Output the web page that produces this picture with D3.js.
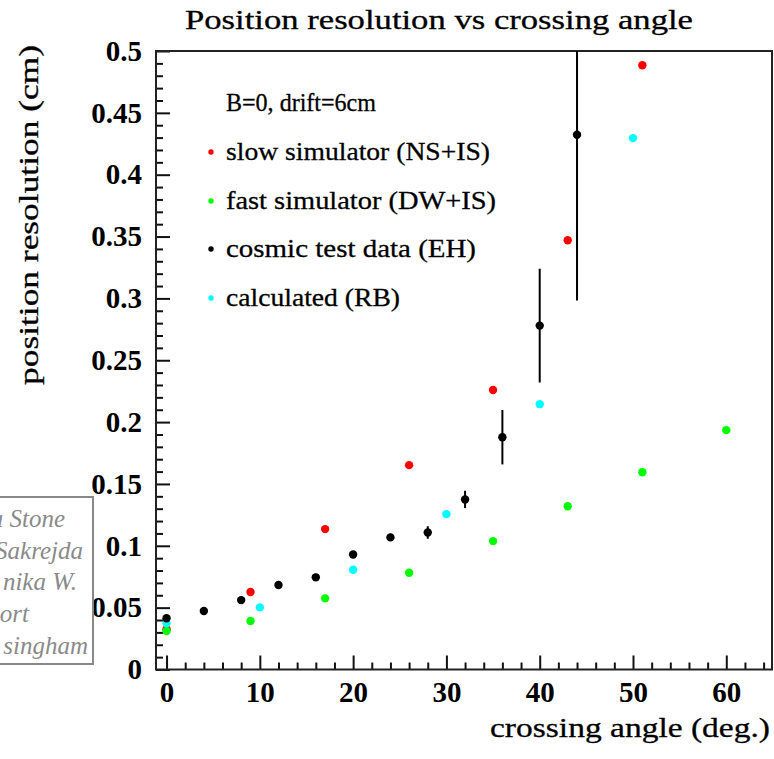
<!DOCTYPE html>
<html>
<head>
<meta charset="utf-8">
<script src="https://cdn.jsdelivr.net/npm/d3@7"></script>
<style>
  html, body { margin: 0; padding: 0; background: #fff; }
  svg { display: block; }
  text { font-family: "Liberation Serif", "Times New Roman", serif; }
  .heavy { stroke: #000; stroke-width: 0.3px; }
</style>
</head>
<body>
<div id="chart"></div>
<script>
// Crossing angle (deg.) and position resolution (cm) for each data set
const angleSlow = [0, 9, 17, 26, 35, 43, 51];
const resSlow   = [0.0325, 0.0626, 0.1135, 0.1652, 0.226, 0.347, 0.4885];

const angleFast = [0, 9, 17, 26, 35, 43, 51, 60];
const resFast   = [0.0311, 0.0392, 0.0575, 0.0782, 0.1038, 0.132, 0.1595, 0.1935];

const angleCosmic = [0, 4, 8, 12, 16, 20, 24, 28, 32, 36, 40, 44];
const resCosmic   = [0.0414, 0.0473, 0.0561, 0.0683, 0.0745, 0.093, 0.1068, 0.1108, 0.1375, 0.1878, 0.278, 0.4323];
const errCosmic   = [0.002, 0.0015, 0.002, 0.0015, 0.003, 0.002, 0.003, 0.005, 0.007, 0.022, 0.046, 0.134];

const angleCalc = [0, 10, 20, 30, 40, 50];
const resCalc   = [0.0373, 0.0502, 0.0806, 0.1256, 0.2145, 0.4296];

const xTickValues = [0, 10, 20, 30, 40, 50, 60];
const yTickValues = [0, 0.05, 0.1, 0.15, 0.2, 0.25, 0.3, 0.35, 0.4, 0.45, 0.5];
const yTickLabels = ["0", "0.05", "0.1", "0.15", "0.2", "0.25", "0.3", "0.35", "0.4", "0.45", "0.5"];

const legendTitle = "B=0, drift=6cm";
const seriesNames = ["slow simulator (NS+IS)", "fast simulator (DW+IS)", "cosmic test data (EH)", "calculated (RB)"];
const seriesColors = ["#ff0000", "#00ff00", "#000000", "#00ffff"];

const creditLines = ["a Stone", "Sakrejda", "nika W.", "ort", "singham"];

const W = 774, H = 759;
const frame = { left: 156, right: 772, top: 51, bottom: 669.5 };

const svg = d3.select("#chart").append("svg")
  .attr("width", W).attr("height", H);

const x = d3.scaleLinear().domain([-1.13, 64.9]).range([frame.left, frame.right]);
const y = d3.scaleLinear().domain([0, 0.5]).range([frame.bottom, frame.top]);

// Title
svg.append("text")
  .attr("class", "heavy")
  .attr("x", 439).attr("y", 29)
  .attr("text-anchor", "middle")
  .attr("font-size", 28)
  .attr("textLength", 508).attr("lengthAdjust", "spacingAndGlyphs")
  .text("Position resolution vs crossing angle");

// Minor ticks
const xMinor = d3.range(0, 65, 2).filter(v => v % 10 !== 0);
const yMinor = d3.range(0, 51).map(v => v / 100).filter((v, i) => i % 5 !== 0);

svg.append("g")
  .attr("transform", `translate(0,${frame.bottom})`)
  .call(d3.axisBottom(x).tickValues(xMinor).tickSize(-7).tickFormat(""))
  .call(g => g.select(".domain").remove())
  .call(g => g.selectAll("line").attr("stroke", "#111").attr("stroke-width", 2));

svg.append("g")
  .attr("transform", `translate(${frame.left},0)`)
  .call(d3.axisLeft(y).tickValues(yMinor).tickSize(-7).tickFormat(""))
  .call(g => g.select(".domain").remove())
  .call(g => g.selectAll("line").attr("stroke", "#111").attr("stroke-width", 2));

// Major ticks with labels
svg.append("g")
  .attr("transform", `translate(0,${frame.bottom})`)
  .call(d3.axisBottom(x).tickValues(xTickValues).tickSize(-14).tickPadding(12).tickFormat(d3.format("d")))
  .call(g => g.select(".domain").remove())
  .call(g => g.selectAll("line").attr("stroke", "#111").attr("stroke-width", 2))
  .call(g => g.selectAll("text")
    .attr("font-family", "Liberation Serif, serif")
    .attr("font-weight", "bold").attr("font-size", 29).attr("fill", "#000"));

svg.append("g")
  .attr("transform", `translate(${frame.left},0)`)
  .call(d3.axisLeft(y).tickValues(yTickValues).tickSize(-14).tickPadding(14)
    .tickFormat((d, i) => yTickLabels[i]))
  .call(g => g.select(".domain").remove())
  .call(g => g.selectAll("line").attr("stroke", "#111").attr("stroke-width", 2))
  .call(g => g.selectAll("text")
    .attr("font-family", "Liberation Serif, serif")
    .attr("font-weight", "bold").attr("font-size", 29).attr("fill", "#000"));

// Frame
svg.append("rect")
  .attr("x", frame.left).attr("y", frame.top)
  .attr("width", frame.right - frame.left).attr("height", frame.bottom - frame.top)
  .attr("fill", "none").attr("stroke", "#222").attr("stroke-width", 2);

// Axis titles
svg.append("text")
  .attr("class", "heavy")
  .attr("x", 770).attr("y", 737)
  .attr("text-anchor", "end")
  .attr("font-size", 28)
  .attr("textLength", 280).attr("lengthAdjust", "spacingAndGlyphs")
  .text("crossing angle (deg.)");

svg.append("text")
  .attr("class", "heavy")
  .attr("transform", "translate(38,215) rotate(-90)")
  .attr("text-anchor", "middle")
  .attr("font-size", 28)
  .attr("textLength", 340).attr("lengthAdjust", "spacingAndGlyphs")
  .text("position resolution (cm)");

// Data points, clipped to the frame
const clipId = "plotClip";
svg.append("clipPath").attr("id", clipId)
  .append("rect").attr("x", frame.left).attr("y", frame.top)
  .attr("width", frame.right - frame.left).attr("height", frame.bottom - frame.top);
const plot = svg.append("g").attr("clip-path", `url(#${clipId})`);

const series = [
  { xs: angleSlow, ys: resSlow, color: seriesColors[0] },
  { xs: angleFast, ys: resFast, color: seriesColors[1] },
  { xs: angleCalc, ys: resCalc, color: seriesColors[3] },
  { xs: angleCosmic, ys: resCosmic, color: seriesColors[2], err: errCosmic }
];

series.forEach(s => {
  const pts = s.xs.map((a, i) => ({ a, r: s.ys[i], e: s.err ? s.err[i] : 0 }));
  const g = plot.append("g");
  if (s.err) {
    g.selectAll("line.err").data(pts).join("line")
      .attr("class", "err")
      .attr("x1", d => x(d.a)).attr("x2", d => x(d.a))
      .attr("y1", d => y(d.r - d.e)).attr("y2", d => y(d.r + d.e))
      .attr("stroke", s.color).attr("stroke-width", 2);
  }
  g.selectAll("circle").data(pts).join("circle")
    .attr("cx", d => x(d.a)).attr("cy", d => y(d.r))
    .attr("r", 4.2)
    .attr("fill", s.color);
});

// Legend
const legend = svg.append("g");
legend.append("text")
  .attr("class", "heavy")
  .attr("x", 226).attr("y", 111)
  .attr("font-size", 26)
  .attr("textLength", 150).attr("lengthAdjust", "spacingAndGlyphs")
  .text(legendTitle);

const legendRows = [160, 209, 257, 306];
const legendWidths = [264, 270, 250, 174];
seriesNames.forEach((name, i) => {
  legend.append("circle")
    .attr("cx", 211).attr("cy", legendRows[i] - 8)
    .attr("r", 2.7).attr("fill", seriesColors[i]);
  legend.append("text")
    .attr("class", "heavy")
    .attr("x", 226).attr("y", legendRows[i])
    .attr("font-size", 26)
    .attr("textLength", legendWidths[i]).attr("lengthAdjust", "spacingAndGlyphs")
    .text(name);
});

// Credit box at the left edge
const credit = svg.append("g");
credit.append("rect")
  .attr("x", -10).attr("y", 497)
  .attr("width", 103).attr("height", 167)
  .attr("fill", "#fff").attr("stroke", "#888").attr("stroke-width", 2);
const creditEnds = [65, 83, 77, 29, 88];
creditLines.forEach((t, i) => {
  credit.append("text")
    .attr("x", creditEnds[i]).attr("y", 527 + i * 31.7)
    .attr("text-anchor", "end")
    .attr("font-style", "italic")
    .attr("font-size", 25)
    .attr("fill", "#8a8a8a")
    .text(t);
});
</script>
</body>
</html>
